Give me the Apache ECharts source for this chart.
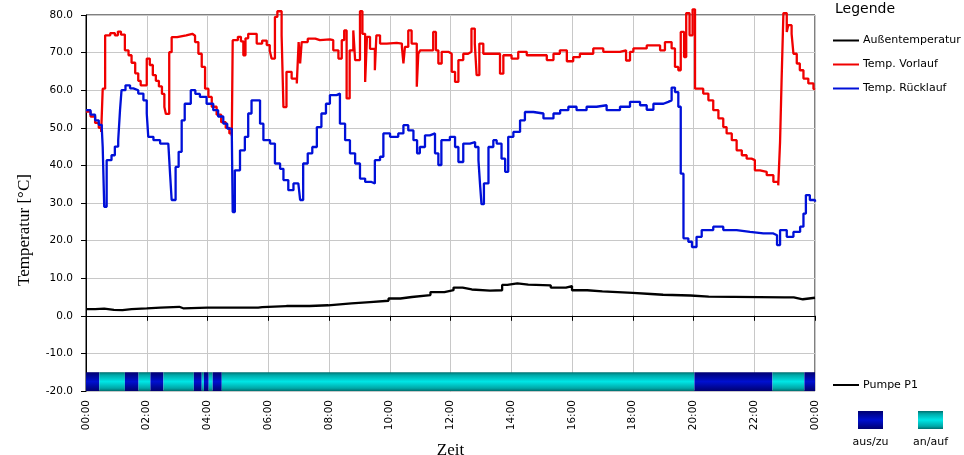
<!DOCTYPE html>
<html>
<head>
<meta charset="utf-8">
<title>Temperaturverlauf</title>
<script src="https://cdn.jsdelivr.net/npm/echarts/dist/echarts.min.js"></script>
<style>
    html, body { margin: 0; padding: 0; background: #fff; }
    #chart { width: 964px; height: 455px; }
</style>
</head>
<body>
<div id="chart"></div>
<script>
// Messwerte: [Stunde, Wert]
var aussen = [
    [0, 1.8], [0.3, 1.9], [0.6, 1.6], [0.92, 1.5], [1.2, 1.8], [1.5, 2.0], [2.0, 2.2], [2.45, 2.4],
    [3.07, 2.0], [3.2, 2.2], [4.0, 2.2], [5.0, 2.2], [5.67, 2.3], [5.8, 2.6], [6.6, 2.6], [7.36, 2.8],
    [7.97, 3.3], [8.74, 3.65], [9.35, 4.0], [9.96, 4.6], [10.35, 5.0], [10.73, 5.5], [11.34, 6.3],
    [11.8, 6.8], [12.1, 7.5], [12.4, 7.0], [12.7, 6.7], [13.3, 6.8], [13.7, 8.2], [13.87, 8.6],
    [14.2, 8.3], [14.56, 8.1], [15.3, 7.5], [15.8, 7.9], [16.0, 6.8], [16.5, 6.5], [17.0, 6.1],
    [18.0, 5.8], [18.6, 5.6], [19.0, 5.4], [19.9, 5.1], [20.5, 4.9], [23.0, 4.9], [23.3, 4.4],
    [23.6, 4.8], [24, 4.8]
];

var vorlauf = [
    [0, 54.3], [0.15, 53], [0.3, 51.3], [0.42, 50], [0.5, 48.9], [0.55, 60.4], [0.63, 74.6], [0.8, 75.2],
    [0.95, 74.6], [1.05, 75.6], [1.15, 74.8], [1.28, 70.6], [1.4, 69.3], [1.5, 67.3], [1.62, 64.5],
    [1.72, 62.5], [1.8, 61.3], [2.0, 68.4], [2.1, 66.7], [2.2, 64], [2.3, 62.5], [2.4, 61], [2.5, 59],
    [2.58, 55.5], [2.63, 53.7], [2.74, 70.1], [2.82, 74.1], [3.0, 74.6], [3.3, 75], [3.5, 74.5],
    [3.59, 72.8], [3.7, 69.7], [3.81, 66.2], [3.92, 60.4], [4.03, 58.2], [4.14, 55.6], [4.3, 53.5],
    [4.45, 51.5], [4.6, 50], [4.72, 48.5], [4.8, 47.8], [4.83, 73.3], [5.0, 74.2], [5.1, 73],
    [5.18, 69.3], [5.25, 73.8], [5.34, 75], [5.62, 72.4], [5.8, 73.2], [5.95, 72], [6.05, 70.5],
    [6.11, 68.4], [6.22, 79.5], [6.3, 81], [6.44, 74.6], [6.5, 55.5], [6.6, 64.9], [6.77, 63.1],
    [6.94, 61.8], [7.0, 72.8], [7.05, 67.1], [7.1, 72.8], [7.3, 73.7], [7.55, 73.3], [7.7, 73.5],
    [8.03, 73.3], [8.14, 70.6], [8.31, 68.4], [8.42, 73.3], [8.5, 75.9], [8.58, 57.8], [8.68, 70.6],
    [8.8, 75.9], [8.86, 68], [9.02, 81], [9.1, 75], [9.19, 62.2], [9.25, 74.2], [9.35, 71],
    [9.51, 65.3], [9.56, 74.6], [9.68, 72.4], [9.9, 72.6], [10.23, 72.4], [10.4, 71.5], [10.45, 67.1],
    [10.5, 71.5], [10.61, 75.9], [10.72, 72.4], [10.89, 60.9], [10.94, 69.7], [11.0, 70.6],
    [11.32, 70.6], [11.43, 75.5], [11.52, 70.6], [11.6, 67.1], [11.71, 70.2], [11.93, 69.7],
    [12.04, 64.9], [12.15, 62.2], [12.26, 68], [12.42, 69.7], [12.58, 70.2], [12.69, 76.4],
    [12.8, 72.4], [12.86, 64], [12.95, 72.4], [13.08, 69.7], [13.41, 69.7], [13.63, 64.4],
    [13.74, 69.3], [14.01, 68.4], [14.23, 70.2], [14.51, 69.3], [14.84, 69.3], [15.17, 68],
    [15.39, 69.7], [15.6, 70.6], [15.83, 67.7], [16.04, 68.8], [16.26, 69.7], [16.7, 71.1],
    [17.03, 70.2], [17.58, 70.6], [17.78, 67.9], [17.91, 70.2], [18.02, 71.1], [18.46, 71.9],
    [18.9, 70.6], [19.06, 72.8], [19.28, 71.1], [19.39, 66.2], [19.5, 65.3], [19.58, 75.5],
    [19.69, 68.8], [19.76, 80.5], [19.87, 74.6], [19.97, 81.5], [20.05, 60.4], [20.32, 59.1],
    [20.49, 57.3], [20.65, 54.7], [20.82, 52.5], [20.98, 50.2], [21.09, 48.5], [21.26, 46.7],
    [21.42, 44], [21.59, 42.7], [21.75, 41.8], [21.91, 41.4], [22.02, 38.7], [22.19, 38.3],
    [22.41, 37.4], [22.63, 35.6], [22.79, 34.7], [22.85, 46.3], [22.9, 62.6], [22.96, 80.5],
    [23.07, 75.5], [23.12, 77.3], [23.23, 75], [23.29, 69.7], [23.4, 67.1], [23.5, 65.3],
    [23.62, 63.1], [23.78, 61.8], [23.95, 60.4], [24, 60.2]
];

var ruecklauf = [
    [0, 54.7], [0.15, 53.5], [0.3, 52], [0.42, 50.8], [0.52, 49.8], [0.55, 44.9], [0.6, 29], [0.68, 41.4],
    [0.84, 42.7], [0.95, 45], [1.06, 46.7], [1.12, 54.7], [1.17, 60], [1.3, 61.3], [1.45, 60.5],
    [1.56, 60], [1.72, 59.1], [1.89, 57.3], [2.0, 53.8], [2.05, 47.6], [2.22, 46.7], [2.44, 45.8],
    [2.71, 45.4], [2.77, 37.4], [2.82, 30.8], [2.95, 39.6], [3.05, 43.6], [3.15, 52], [3.25, 56.4],
    [3.45, 60], [3.6, 59], [3.75, 58.2], [3.97, 56.4], [4.19, 54.7], [4.35, 53], [4.52, 51.1],
    [4.65, 49.8], [4.8, 48.5], [4.83, 27.6], [4.9, 38.7], [5.07, 44], [5.23, 47.6], [5.34, 53.8],
    [5.45, 57.3], [5.62, 57.3], [5.73, 51.1], [5.84, 46.7], [6.06, 45.8], [6.22, 40.5], [6.39, 39.1],
    [6.5, 36.1], [6.66, 33.4], [6.83, 35.2], [6.99, 35.2], [7.05, 30.8], [7.15, 40.5], [7.3, 43.2],
    [7.45, 44.9], [7.6, 50.2], [7.75, 53.8], [7.9, 56.4], [8.03, 58.7], [8.25, 59.1], [8.36, 51.1],
    [8.53, 46.7], [8.69, 43.2], [8.86, 40.5], [9.02, 36.5], [9.19, 35.6], [9.4, 35.2], [9.51, 41.4],
    [9.68, 42.3], [9.79, 48.5], [10.01, 47.6], [10.28, 48.5], [10.45, 50.7], [10.61, 49.3],
    [10.78, 46.7], [10.9, 43.2], [10.99, 44.9], [11.16, 48], [11.32, 48.5], [11.49, 43.2],
    [11.6, 40.1], [11.7, 46.7], [11.98, 47.6], [12.15, 44.9], [12.26, 40.9], [12.42, 45.8],
    [12.64, 46.2], [12.81, 44.9], [12.92, 41.4], [12.97, 35.2], [13.02, 29.7], [13.1, 35.2],
    [13.25, 44.9], [13.41, 46.7], [13.52, 45.8], [13.68, 41.8], [13.8, 38.3], [13.9, 47.6],
    [14.07, 48.9], [14.29, 52], [14.45, 54.2], [14.73, 53.8], [15.06, 52.5], [15.39, 53.8],
    [15.61, 54.7], [15.88, 55.6], [16.15, 54.7], [16.48, 55.6], [16.81, 56], [17.14, 54.7],
    [17.58, 55.6], [17.91, 56.9], [18.24, 56], [18.46, 54.8], [18.68, 56.4], [19.01, 56.9],
    [19.17, 57.3], [19.28, 60.7], [19.39, 59.5], [19.5, 55.6], [19.58, 37.8], [19.67, 20.6],
    [19.83, 19.7], [19.95, 18.3], [20.1, 21], [20.27, 22.8], [20.65, 23.7], [20.98, 22.8],
    [21.42, 22.3], [21.86, 21.9], [22.3, 21.9], [22.63, 21.4], [22.75, 18.8], [22.85, 22.8],
    [23.07, 21], [23.29, 22.3], [23.51, 23.7], [23.62, 27.2], [23.7, 32.1], [23.83, 30.8], [24, 30.3]
];

// Pumpe P1: [von, bis, Zustand] (0 = aus/zu, 1 = an/auf)
var pumpe = [
    [0, 0.44, 0], [0.44, 1.28, 1], [1.28, 1.73, 0], [1.73, 2.12, 1], [2.12, 2.55, 0], [2.55, 3.55, 1],
    [3.55, 3.81, 0], [3.81, 3.88, 1], [3.88, 4.04, 0], [4.04, 4.17, 1], [4.17, 4.47, 0],
    [4.47, 20.03, 1], [20.03, 22.6, 0], [22.6, 23.65, 1], [23.65, 24, 0]
];
var pumpeBand = [-20, -15];

var blauVerlauf = function () {
    return new echarts.graphic.LinearGradient(0, 0, 0, 1, [
        { offset: 0, color: '#000070' },
        { offset: 0.5, color: '#0010d0' },
        { offset: 1, color: '#000070' }
    ]);
};
var cyanVerlauf = function () {
    return new echarts.graphic.LinearGradient(0, 0, 0, 1, [
        { offset: 0, color: '#006e6e' },
        { offset: 0.15, color: '#00a8a8' },
        { offset: 0.5, color: '#00e6e6' },
        { offset: 0.85, color: '#00a8a8' },
        { offset: 1, color: '#006e6e' }
    ]);
};

var chart = echarts.init(document.getElementById('chart'));

var font = 'DejaVu Sans';
var serif = 'Liberation Serif';

chart.setOption({
    animation: false,
    backgroundColor: '#fff',
    grid: {
        left: 86, right: 149, top: 15, bottom: 64,
        outerBoundsMode: 'none',
        show: true, borderColor: '#000', borderWidth: 1
    },
    legend: {
        data: ['Außentemperatur', 'Temp. Vorlauf', 'Temp. Rücklauf'],
        orient: 'vertical',
        left: 833, top: 35,
        padding: 0,
        icon: 'rect',
        itemWidth: 26, itemHeight: 2, itemGap: 13,
        textStyle: { fontFamily: font, fontSize: 11, color: '#000', padding: [0, 0, 0, -1] }
    },
    xAxis: {
        type: 'value',
        min: 0, max: 24, interval: 2,
        name: 'Zeit',
        nameLocation: 'middle',
        nameGap: 51,
        nameTextStyle: { fontFamily: serif, fontSize: 17, color: '#000' },
        axisLine: { lineStyle: { color: '#000', width: 1 } },
        axisTick: { length: 5, lineStyle: { color: '#000' } },
        axisLabel: {
            rotate: 90,
            margin: 9,
            fontFamily: font, fontSize: 10.5, color: '#000',
            formatter: function (v) {
                var h = v % 24;
                return (h < 10 ? '0' : '') + h + ':00';
            }
        },
        splitLine: { show: true, lineStyle: { color: '#c8c8c8', width: 1 } }
    },
    yAxis: {
        type: 'value',
        min: -20, max: 80, interval: 10,
        axisLine: { show: true, lineStyle: { color: '#000', width: 1 } },
        axisTick: { show: true, length: 5, lineStyle: { color: '#000' } },
        axisLabel: {
            margin: 13,
            fontFamily: font, fontSize: 10.5, color: '#000',
            formatter: function (v) { return v.toFixed(1); }
        },
        splitLine: { show: true, lineStyle: { color: '#c8c8c8', width: 1 } }
    },
    series: [
        {
            name: 'Pumpe P1',
            type: 'custom',
            data: pumpe,
            encode: { x: [0, 1] },
            renderItem: function (params, api) {
                var p0 = api.coord([api.value(0), pumpeBand[1]]);
                var p1 = api.coord([api.value(1), pumpeBand[0]]);
                return {
                    type: 'rect',
                    shape: { x: p0[0], y: p0[1], width: p1[0] - p0[0], height: p1[1] - p0[1] },
                    style: { fill: api.value(2) === 1 ? cyanVerlauf() : blauVerlauf() }
                };
            }
        },
        {
            name: 'Außentemperatur',
            type: 'line', step: 'end', symbol: 'none', clip: false,
            data: aussen,
            itemStyle: { color: '#000' },
            lineStyle: { color: '#000', width: 2.3 }
        },
        {
            name: 'Temp. Vorlauf',
            type: 'line', step: 'end', symbol: 'none', clip: false,
            data: vorlauf,
            itemStyle: { color: '#f00000' },
            lineStyle: { color: '#f00000', width: 2.3 }
        },
        {
            name: 'Temp. Rücklauf',
            type: 'line', step: 'end', symbol: 'none', clip: false,
            data: ruecklauf,
            itemStyle: { color: '#0010d8' },
            lineStyle: { color: '#0010d8', width: 2.3 }
        }
    ],
    graphic: [
        {
            type: 'text', x: 25, y: 230, rotation: Math.PI / 2,
            style: {
                text: 'Temperatur [°C]', fill: '#000',
                font: '17px "' + serif + '"', textAlign: 'center', textVerticalAlign: 'middle'
            }
        },
        {
            type: 'text', x: 835, y: 9,
            style: { text: 'Legende', fill: '#000', font: '14px "' + font + '"', textVerticalAlign: 'middle' }
        },
        {
            type: 'line', shape: { x1: 833, y1: 385, x2: 859, y2: 385 },
            style: { stroke: '#000', lineWidth: 2 }
        },
        {
            type: 'text', x: 863, y: 385,
            style: { text: 'Pumpe P1', fill: '#000', font: '11px "' + font + '"', textVerticalAlign: 'middle' }
        },
        {
            type: 'rect', shape: { x: 858, y: 411, width: 25, height: 18 },
            style: { fill: blauVerlauf() }
        },
        {
            type: 'rect', shape: { x: 918, y: 411, width: 25, height: 18 },
            style: { fill: cyanVerlauf() }
        },
        {
            type: 'text', x: 870.5, y: 442,
            style: { text: 'aus/zu', fill: '#000', font: '11px "' + font + '"', textAlign: 'center', textVerticalAlign: 'middle' }
        },
        {
            type: 'text', x: 930.5, y: 442,
            style: { text: 'an/auf', fill: '#000', font: '11px "' + font + '"', textAlign: 'center', textVerticalAlign: 'middle' }
        }
    ]
});
</script>
</body>
</html>
